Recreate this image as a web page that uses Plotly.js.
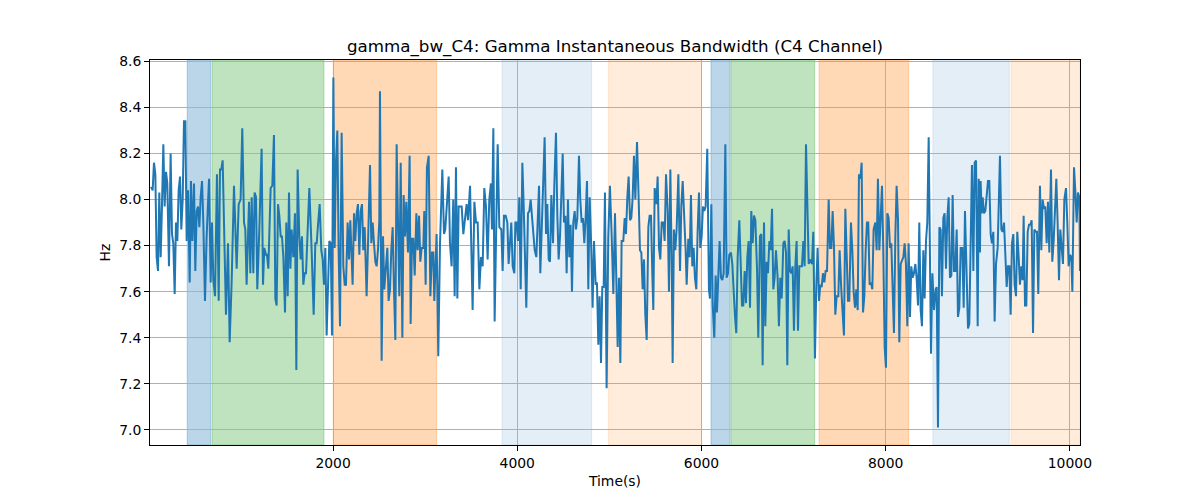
<!DOCTYPE html>
<html>
<head>
<meta charset="utf-8">
<script src="https://cdn.plot.ly/plotly-3.0.1.min.js"></script>
<style>html,body{margin:0;padding:0;background:#fff;}#chart{width:1200px;height:500px;}</style>
</head>
<body>
<div id="chart"></div>
<script>
// ---- data (time in seconds, bandwidth in Hz) ----
const time1 = [23,41,55,70,84,99,113,128,142,157,171,186,200,218,236,251,265,280,294,309,323,338,352,367,381,396,410,425,443,457,472,490,504,519,533,548,562,577,591,609,627,653,671,685,700,718,739,758,772,786,801,819,837,859,877,899,924,953,975,996,1014,1033,1047,1061,1087,1101,1116,1134,1148,1163,1177,1199,1224,1239,1253,1271,1282,1297,1322,1340,1358,1373,1387,1402,1416,1431,1445,1460,1478,1492,1507,1521,1536,1550,1568,1586,1601,1615,1633,1648,1662,1677,1691,1706,1720,1742];
const bw1 = [8.055,8.04,8.16,8.11,7.75,7.69,8.03,7.75,7.97,8.24,7.97,8.12,8.07,7.71,8.2,7.85,7.81,7.59,7.9,7.82,8.04,8.1,7.87,8.0,8.34,8.34,7.82,8.04,7.64,8.08,7.82,8.07,7.69,7.95,7.97,7.88,8.01,8.08,7.9,7.56,7.84,8.09,7.64,7.9,7.65,7.58,8.11,7.56,8.13,8.13,8.17,7.75,7.5,7.81,7.38,7.65,8.06,7.7,7.98,8.0,8.31,7.9,7.87,7.63,7.99,7.68,8.01,7.68,8.03,8.01,7.61,7.87,8.22,7.63,7.79,7.76,7.76,7.7,8.05,8.06,8.28,7.57,7.54,7.98,7.93,7.84,7.84,7.75,7.51,7.9,7.58,8.03,7.7,7.87,7.75,7.94,7.26,8.13,7.84,7.74,7.84,7.63,7.68,7.68,7.84,8.05];

const time2 = [1767,1789,1807,1822,1840,1854,1872,1887,1901,1916,1930,1945,1959,1974,1988,2003,2017,2031,2046,2060,2075,2093,2111,2126,2140,2158,2173,2187,2202,2212,2227,2241,2256,2270,2285,2299,2314,2328,2343,2364,2382,2401,2415,2430,2444,2459,2473,2487,2502,2509,2527,2542,2556,2574,2589,2603,2618,2632,2647,2661,2676,2690,2705,2719,2734,2752,2766,2781,2795,2813,2831,2842,2857,2871,2886,2904,2918,2933,2947,2962,2980,2990,3005,3019,3038,3056,3074,3088,3099,3124,3142,3161,3186,3204,3218,3240,3255,3269,3287,3305,3320,3334,3349,3363];
const bw2 = [7.78,7.5,7.81,7.81,7.91,7.98,7.78,7.74,7.63,7.79,7.41,7.63,7.82,7.81,7.41,8.53,7.79,8.16,8.3,7.78,7.45,8.29,7.71,7.63,7.63,7.9,7.74,7.91,7.73,7.63,7.94,7.82,7.94,7.98,7.76,7.95,7.98,7.78,7.88,7.58,7.85,8.15,7.81,7.9,7.81,7.73,7.71,7.78,7.91,8.47,7.3,7.84,7.61,7.73,7.79,7.56,7.61,7.78,7.88,7.61,7.39,8.24,7.78,7.58,8.16,7.4,8.02,7.84,7.99,7.77,8.19,7.46,7.83,7.83,7.67,7.94,7.78,7.93,7.73,7.79,7.79,7.95,7.63,8.14,8.19,7.58,7.77,7.77,7.56,7.85,7.32,7.81,8.13,7.85,7.87,8.02,8.1,7.81,7.71,8.0,7.58,8.14,7.57,7.97];

const time3 = [3396,3414,3432,3450,3465,3487,3515,3534,3552,3570,3588,3606,3624,3642,3660,3678,3696,3714,3725,3740,3754,3769,3787,3805,3827,3841,3856,3874,3892,3906,3921,3935,3950,3968,3979,3993,4008,4022,4037,4055,4069,4084,4098,4116,4131,4145,4160,4174,4189,4207,4221,4236,4250,4268,4283,4297,4312,4326,4341,4355,4370,4388,4402,4420,4435,4449,4464,4478,4493,4507,4522,4536,4550,4565,4579,4594,4608,4623,4637,4652,4670,4684,4699,4713,4728,4742,4757,4771,4786,4804,4818,4833,4851,4865,4880,4894,4909,4923,4938,4952,4970,4988,5006,5025,5043,5061,5075,5090,5104,5119];
const bw3 = [7.97,7.85,7.91,7.98,7.91,8.06,7.52,7.99,7.9,7.9,7.61,7.75,7.71,8.05,7.97,7.74,8.0,8.07,7.87,8.31,7.47,7.87,8.24,7.88,7.87,7.69,7.93,7.93,7.9,7.72,7.81,7.9,7.71,7.68,7.9,7.9,7.82,8.01,7.61,8.16,7.98,7.78,7.53,7.94,7.95,8.0,7.91,7.86,7.78,7.75,7.95,8.06,7.68,7.91,8.14,8.27,7.85,7.98,7.74,7.73,8.02,7.81,8.06,8.29,7.93,7.74,7.84,8.04,8.2,7.9,7.93,7.68,8.0,7.75,7.89,7.6,7.9,7.95,7.87,7.92,8.19,8.0,7.9,7.92,7.81,7.92,8.08,7.61,8.01,7.78,7.53,7.82,7.63,7.64,7.37,7.58,7.29,7.62,7.62,8.03,7.18,7.84,8.06,7.84,7.59,7.94,7.61,7.36,7.66,7.29];

const time4 = [5133,5151,5166,5180,5195,5209,5224,5238,5253,5267,5282,5300,5318,5332,5347,5361,5376,5390,5405,5423,5437,5452,5466,5477,5492,5510,5524,5539,5553,5568,5586,5600,5615,5633,5647,5662,5676,5687,5701,5716,5730,5749,5767,5781,5796,5810,5828,5839,5857,5872,5886,5900,5915,5929,5944,5958,5973,5987,6002,6016,6031,6045,6063,6081,6092,6107,6121,6139,6154,6168,6183,6197,6212,6226,6241,6259,6273,6288,6302,6320,6335,6349,6364,6378,6393,6411,6425,6440,6454,6469,6483,6498,6512,6527,6541,6556,6570,6585,6603,6617,6635,6650,6664,6679,6693,6708,6722,6737,6751,6766,6780,6794,6809,6827,6841,6856];
const bw4 = [7.82,7.82,7.92,7.85,8.01,8.1,7.91,7.92,8.01,8.19,8.0,8.25,8.0,7.78,7.77,7.61,7.74,7.5,7.39,7.88,7.93,7.93,7.68,7.52,8.05,7.98,8.1,7.79,7.74,7.9,7.9,7.82,8.11,7.95,7.6,8.13,7.75,7.29,7.87,7.78,7.87,8.11,7.69,7.97,8.08,7.97,7.78,7.63,7.83,7.75,8.02,7.71,7.79,7.66,7.61,7.86,8.03,7.79,7.84,7.97,7.95,7.97,8.22,7.61,7.57,7.98,7.55,7.4,7.67,7.51,7.69,7.82,7.66,7.65,7.68,8.24,7.66,7.68,7.76,7.77,7.72,7.58,7.49,7.42,7.75,7.91,7.75,7.54,7.54,7.69,7.55,7.75,7.82,7.53,7.95,7.81,7.93,7.91,7.7,7.4,7.84,7.85,7.28,7.9,7.45,7.73,7.68,7.82,7.78,7.96,7.61,7.66,7.78,7.66,7.45,7.66];

const time5 = [6871,6889,6903,6918,6932,6947,6961,6976,6990,7004,7019,7033,7048,7062,7077,7091,7106,7120,7135,7149,7164,7178,7200,7214,7232,7247,7261,7276,7290,7305,7319,7334,7348,7363,7381,7395,7410,7424,7439,7453,7468,7486,7500,7518,7533,7547,7562,7576,7591,7605,7623,7638,7652,7667,7681,7696,7710,7725,7739,7754,7768,7783,7797,7811,7826,7840,7855,7869,7888,7902,7916,7931,7945,7960,7974,7989,8003,8018,8032,8047,8061,8076,8090,8105,8119,8134,8148,8163,8177,8192,8206,8220,8235,8249,8264,8278,8293,8307,8322,8336,8351,8365,8380,8394,8409,8423,8438,8452,8467,8481];
const bw5 = [7.57,7.81,7.82,7.77,7.28,7.87,7.69,7.68,7.71,7.43,7.71,7.82,7.43,7.71,7.71,7.71,7.82,7.71,8.24,7.92,7.72,7.74,7.72,7.86,7.31,7.63,7.79,7.56,7.63,7.62,7.68,7.64,7.69,7.69,8.0,7.79,7.79,7.95,7.79,7.5,7.58,7.58,7.78,7.61,7.5,7.41,7.96,7.78,7.56,7.56,7.9,7.78,7.6,7.53,7.61,7.52,8.11,8.09,8.16,7.51,7.58,7.78,7.9,7.9,7.63,7.64,7.61,7.87,7.9,7.78,8.09,7.78,7.92,8.06,7.78,7.36,7.27,7.94,7.92,7.79,7.81,7.63,7.42,7.84,8.06,7.91,7.38,7.72,7.74,7.75,7.81,7.72,7.45,7.81,7.49,7.71,7.66,7.68,7.72,7.66,7.54,7.9,7.52,7.45,7.78,7.57,7.82,7.9,8.27,7.63];

const time6 = [8492,8507,8525,8543,8554,8568,8583,8597,8611,8626,8640,8655,8669,8684,8698,8713,8727,8742,8756,8771,8785,8800,8814,8832,8847,8861,8879,8894,8908,8923,8937,8952,8966,8981,8999,9010,9024,9031,9042,9053,9067,9082,9096,9111,9125,9140,9154,9169,9183,9198,9216,9241,9256,9270,9285,9299,9314,9328,9343,9357,9371,9386,9400,9415,9429,9444,9458,9473,9487,9498,9513,9527,9542,9556,9571,9585,9600,9614,9628,9643,9657,9675,9690,9704,9719,9733,9748,9762,9777,9795,9809,9824,9838,9853,9867,9882,9896,9911,9925,9940,9958,9972,9987,10001,10016,10027,10045,10059,10074,10088,10103,10110];
const bw6 = [7.33,7.68,7.52,7.61,7.62,7.01,7.88,7.87,7.58,7.92,7.94,7.7,7.92,8.01,7.66,7.67,8.02,7.69,7.69,7.87,7.49,7.53,7.79,7.79,7.53,7.95,7.61,7.44,7.46,7.87,8.15,7.69,8.16,8.17,7.45,8.09,7.77,8.08,7.94,8.01,7.94,7.95,8.03,8.08,8.08,7.85,7.81,7.86,7.47,7.72,7.79,8.19,7.87,7.86,7.9,7.78,7.62,7.71,7.71,7.5,7.81,7.85,7.63,7.58,7.86,7.75,7.63,7.71,7.65,7.93,7.54,7.54,7.86,7.89,7.89,7.91,7.42,7.87,7.86,7.86,7.59,8.06,7.78,8.0,7.96,7.97,7.81,7.99,7.77,8.13,7.73,7.82,7.95,8.09,7.9,7.65,7.87,7.79,7.72,8.0,8.05,7.9,7.71,7.76,7.75,7.6,8.14,8.04,7.9,8.03,8.01,7.69];

// shaded intervals (seconds) and their kind
const spanStart = [416, 685, 2002, 3834, 4988, 6103, 6320, 7276, 8512, 9360];
const spanEnd   = [670, 1901, 3125, 4808, 6002, 6310, 7229, 8250, 9342, 10110];
const spanKind  = ['A', 'B', 'C', 'D', 'E', 'A', 'B', 'C', 'D', 'E'];

const yTicks = [7.0, 7.2, 7.4, 7.6, 7.8, 8.0, 8.2, 8.4, 8.6];
const xTicks = [2000, 4000, 6000, 8000, 10000];

// ---- styling ----
const kindColor = {
  A: 'rgba(31,119,180,0.3)',
  B: 'rgba(44,160,44,0.3)',
  C: 'rgba(255,127,14,0.3)',
  D: 'rgba(31,119,180,0.12)',
  E: 'rgba(255,127,14,0.15)'
};

const time = [].concat(time1, time2, time3, time4, time5, time6);
const bw = [].concat(bw1, bw2, bw3, bw4, bw5, bw6);

const shapes = spanStart.map((s, i) => ({
  type: 'rect', xref: 'x', yref: 'paper',
  x0: s, x1: spanEnd[i], y0: 0, y1: 1,
  fillcolor: kindColor[spanKind[i]],
  line: {width: 1, color: kindColor[spanKind[i]]},
  layer: 'below'
}));

const font = {family: 'DejaVu Sans, sans-serif', color: '#000'};

const trace = {
  x: time, y: bw, type: 'scatter', mode: 'lines',
  line: {color: '#1f77b4', width: 2},
  hoverinfo: 'skip'
};

const layout = {
  width: 1200, height: 500,
  margin: {l: 150, r: 120, t: 60, b: 55},
  paper_bgcolor: '#fff', plot_bgcolor: '#fff',
  showlegend: false,
  font: Object.assign({size: 13.9}, font),
  title: {
    text: 'gamma_bw_C4: Gamma Instantaneous Bandwidth (C4 Channel)',
    font: Object.assign({size: 16.7}, font),
    x: 0.5, xref: 'paper', xanchor: 'center',
    y: 0.908, yref: 'container', yanchor: 'middle'
  },
  xaxis: {
    range: [12, 10110],
    tickvals: xTicks, ticktext: xTicks.map(String),
    showgrid: true, gridcolor: '#b0b0b0', gridwidth: 1.1,
    zeroline: false,
    showline: true, linecolor: '#000', linewidth: 1.1, mirror: true,
    ticks: 'outside', ticklen: 4.9, tickwidth: 1.1, tickcolor: '#000',
    tickfont: Object.assign({size: 13.9}, font),
    title: {text: 'Time(s)', font: Object.assign({size: 13.9}, font), standoff: 6}
  },
  yaxis: {
    range: [6.934, 8.606],
    tickvals: yTicks, ticktext: yTicks.map(v => v.toFixed(1)),
    showgrid: true, gridcolor: '#b0b0b0', gridwidth: 1.1,
    zeroline: false,
    showline: true, linecolor: '#000', linewidth: 1.1, mirror: true,
    ticks: 'outside', ticklen: 4.9, tickwidth: 1.1, tickcolor: '#000',
    tickfont: Object.assign({size: 13.9}, font),
    title: {text: 'Hz', font: Object.assign({size: 13.9}, font), standoff: 5}
  },
  shapes: shapes
};

Plotly.newPlot('chart', [trace], layout, {staticPlot: true, displayModeBar: false});
</script>
</body>
</html>
